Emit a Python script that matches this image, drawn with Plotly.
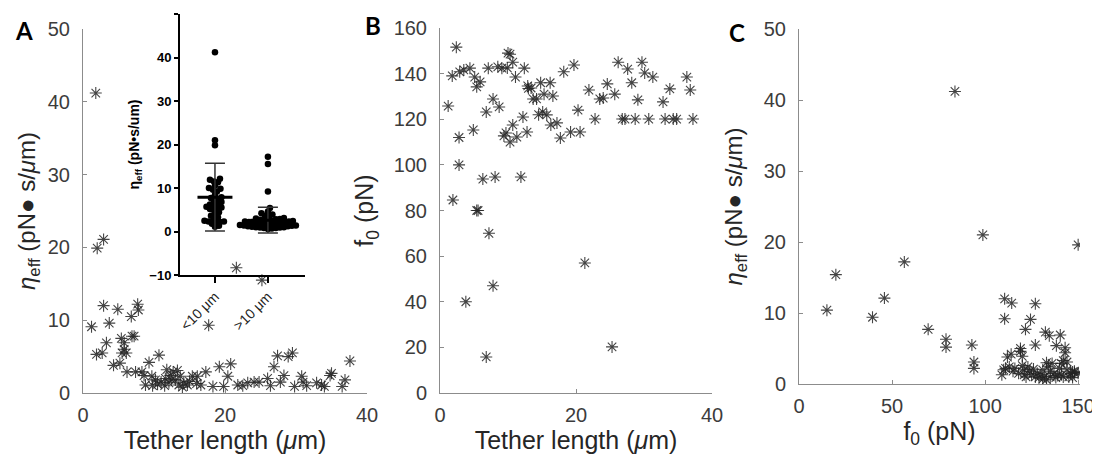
import plotly.graph_objects as go

# ---------------- data ----------------
# Panel A: effective viscosity vs tether length
a_length = [1.8, 2.0, 2.9, 1.2, 1.9, 2.7, 2.9, 3.3, 3.7, 4.9, 4.3, 5.2, 5.4, 5.5, 5.8, 6.1, 5.8,
            6.2, 6.8, 6.9, 7.2, 7.7, 7.8, 7.4, 8.3, 8.6, 8.8, 9.3, 9.7, 10.2, 10.7, 11.0, 11.6,
            11.8, 12.1, 12.7, 13.0, 13.5, 13.7, 14.2, 15.4, 16.1, 16.6, 17.3, 18.3, 19.2, 19.8,
            20.4, 20.8, 21.8, 22.5, 23.2, 24.1, 24.8, 26.0, 26.4, 26.9, 27.4, 27.8, 28.3, 28.9,
            29.5, 29.8, 30.8, 31.0, 31.5, 32.9, 33.6, 34.0, 34.8, 35.0, 36.5, 36.9, 37.6, 17.7,
            21.6, 25.2, 10.5, 11.5, 12.5, 14.7, 15.0, 13.3, 9.8, 14.0, 16.0, 12.3]
a_eta = [41.2, 19.9, 21.1, 9.1, 5.3, 5.5, 12.0, 6.9, 9.6, 11.5, 3.8, 4.1, 7.5, 5.5, 6.9, 5.5, 6.0,
         2.9, 10.5, 7.8, 7.8, 12.2, 11.4, 2.9, 2.9, 2.4, 1.1, 4.2, 2.3, 1.8, 5.2, 1.5, 2.0,
         3.2, 1.4, 2.9, 1.8, 1.1, 2.3, 1.4, 2.3, 2.3, 1.1, 2.9, 0.9, 3.6, 0.9,
         2.3, 4.0, 1.1, 1.0, 1.4, 1.5, 1.5, 2.0, 1.0, 3.6, 5.1, 1.5, 2.4, 5.0,
         5.5, 0.9, 2.3, 1.5, 1.0, 1.4, 1.1, 0.9, 2.4, 2.7, 0.9, 1.8, 4.4, 9.3,
         17.2, 15.5, 1.2, 1.0, 1.8, 1.1, 1.6, 3.1, 1.0, 0.8, 1.3, 2.4]

# Panel B: f0 vs tether length
b_length = [1.2, 1.8, 2.4, 1.9, 2.8, 2.8, 2.9, 3.5, 4.4, 4.9, 5.1, 5.4, 5.4, 5.9, 6.3, 6.8, 7.1,
            7.8, 8.1, 8.5, 8.7, 9.1, 9.4, 9.7, 10.0, 10.3, 10.7, 10.7, 11.1, 11.3, 11.9, 12.2,
            12.4, 12.8, 12.9, 13.4, 13.7, 14.2, 14.8, 15.1, 15.7, 16.2, 16.3, 16.6, 17.2, 17.7,
            18.2, 19.2, 19.7, 20.3, 20.6, 21.9, 22.8, 23.5, 24.0, 24.6, 25.7, 26.2, 26.8, 27.2,
            27.6, 28.2, 28.7, 29.1, 29.7, 30.1, 30.7, 31.3, 32.8, 33.1, 33.8, 34.3, 34.8, 36.3,
            36.8, 37.2, 7.2, 7.8, 3.8, 6.8, 21.3, 25.3, 5.6, 10.3, 13.0, 14.5, 9.9, 15.3]
b_f0 = [125.8, 139.0, 151.6, 84.6, 112.0, 100.0, 140.8, 141.6, 142.4, 115.3, 138.5, 134.2, 80.0,
        136.4, 93.8, 123.2, 142.4, 128.9, 94.7, 143.0, 125.4, 142.4, 112.7, 114.0, 149.0, 110.0,
        117.5, 145.0, 138.5, 112.2, 94.7, 121.0, 142.4, 114.4, 134.6, 133.7, 128.9, 128.9, 136.0,
        123.2, 121.9, 136.0, 117.5, 130.2, 118.4, 111.8, 140.8, 114.4, 143.8, 124.0, 114.4,
        132.8, 120.1, 128.9, 129.3, 135.5, 131.0, 145.0, 120.1, 120.1, 142.0, 136.0, 120.1,
        128.5, 145.0, 140.3, 120.1, 138.5, 127.6, 120.1, 133.3, 120.1, 120.1, 138.5, 132.8,
        120.1, 70.0, 47.0, 40.0, 15.8, 57.0, 20.2, 80.0, 148.5, 133.5, 122.0, 142.5, 131.0]

# Panel C: effective viscosity vs f0
c_f0 = [15.0, 19.8, 39.5, 45.9, 56.6, 69.4, 79.0, 79.0, 92.9, 94.0, 94.0, 98.8, 83.8, 110.5,
        114.3, 110.5, 127.0, 124.4, 121.7, 127.0, 132.4, 134.5, 140.4, 138.3, 143.0, 150.0,
        109, 110, 111, 112, 113, 114, 115, 116, 118, 119, 119, 120, 120, 121, 121, 122, 123,
        124, 125, 126, 127, 128, 129, 130, 131, 131, 132, 133, 133, 134, 135, 135, 136, 137,
        138, 139, 140, 141, 142, 142, 143, 144, 144, 145, 146, 147, 148, 148, 150, 141, 147]
c_eta = [10.4, 15.4, 9.4, 12.1, 17.2, 7.7, 6.3, 5.2, 5.5, 3.1, 2.2, 21.0, 41.2, 12.0,
         11.4, 9.2, 11.3, 9.1, 7.7, 5.5, 7.3, 6.8, 6.9, 5.4, 5.1, 19.6,
         1.3, 2.0, 2.2, 3.8, 2.4, 4.2, 1.8, 2.2, 1.5, 5.0, 4.6, 3.9, 2.6, 1.3, 2.0, 1.0, 2.4,
         1.8, 1.3, 2.1, 1.0, 1.5, 0.9, 1.3, 2.0, 0.7, 1.1, 0.6, 3.0, 2.5, 1.8, 1.0, 2.9, 1.5,
         0.9, 1.2, 2.2, 1.3, 3.3, 1.0, 4.4, 3.1, 2.0, 1.0, 1.5, 0.9, 1.8, 1.6, 1.5, 2.9, 1.7]

# Inset: grouped effective viscosity
inset_categories = ["<10 μm", ">10 μm"]
inset_lt10 = [41.2, 21.0, 19.8, 12.1, 11.9, 11.5, 11.3, 10.6, 10.0, 9.8, 9.6, 9.2, 8.4, 7.9,
              7.7, 7.5, 7.0, 6.8, 6.5, 6.2, 5.9, 5.7, 5.5, 5.4, 5.2, 4.9, 4.4, 4.0, 3.6, 3.3,
              2.9, 2.5, 2.3, 2.3, 2.2, 2.1, 1.8, 1.3, 1.1]
inset_gt10 = [17.2, 15.5, 9.2, 5.4, 4.6, 4.2, 3.9, 3.6, 3.3, 3.1, 3.0, 2.9, 2.8, 2.7, 2.6, 2.5,
              2.4, 2.4, 2.3, 2.3, 2.2, 2.1, 2.0, 2.0, 1.9, 1.9, 1.8, 1.7, 1.6, 1.5, 1.5, 1.4,
              1.4, 1.3, 1.2, 1.2, 1.1, 1.0, 1.0, 0.9, 0.9, 0.8, 0.8, 0.7, 0.6]
inset_mean = [7.9, 2.6]
inset_sd = [7.8, 2.95]


def swarm_offsets(values, center, px_x=53.0, px_y=4.35, d=4.0):
    """Deterministic beeswarm layout (x positions) for a dot plot."""
    placed = []
    xs = [center] * len(values)
    order = sorted(range(len(values)), key=lambda i: values[i])
    for i in order:
        yv = values[i] * px_y
        found = 0.0
        done = False
        for k in range(0, 200):
            for s in ([0] if k == 0 else [1, -1]):
                off = s * k * 0.5
                if all((off - po) ** 2 + (yv - pv) ** 2 >= d * d for po, pv in placed):
                    found = off
                    done = True
                    break
            if done:
                break
        placed.append((found, yv))
        xs[i] = center + found / px_x
    return xs


FONT = "Liberation Sans, Arial, sans-serif"
STAR_COLOR = "rgba(35,35,35,0.85)"
star = dict(symbol="asterisk-open", size=10, color=STAR_COLOR,
            line=dict(width=1.1, color=STAR_COLOR))

fig = go.Figure()
fig.add_trace(go.Scatter(x=a_length, y=a_eta, mode="markers", marker=star,
                         xaxis="x", yaxis="y", showlegend=False))
fig.add_trace(go.Scatter(x=b_length, y=b_f0, mode="markers", marker=star,
                         xaxis="x2", yaxis="y2", showlegend=False))
fig.add_trace(go.Scatter(x=c_f0, y=c_eta, mode="markers", marker=star,
                         xaxis="x3", yaxis="y3", showlegend=False))

# inset dot plot
for idx, vals in enumerate([inset_lt10, inset_gt10]):
    fig.add_trace(go.Scatter(x=swarm_offsets(vals, idx), y=vals, mode="markers",
                             marker=dict(symbol="circle", size=6.5, color="black"),
                             xaxis="x4", yaxis="y4", showlegend=False))
    fig.add_trace(go.Scatter(x=[idx], y=[inset_mean[idx]], mode="markers",
                             marker=dict(size=0.1, color="rgba(0,0,0,0)"),
                             error_y=dict(type="data", array=[inset_sd[idx]], visible=True,
                                          color="#333333", thickness=1.5, width=10),
                             xaxis="x4", yaxis="y4", showlegend=False))
    fig.add_trace(go.Scatter(x=[idx - 0.33, idx + 0.33], y=[inset_mean[idx]] * 2, mode="lines",
                             line=dict(color="black", width=3),
                             xaxis="x4", yaxis="y4", showlegend=False))

TITLE_FONT = dict(family=FONT, size=25, color="#262626")
ETA_FONT = dict(family=FONT, size=24, color="#262626")

# The page body has an 8px margin, so the figure is drawn at (8, 8) in the window.
OFF = 8
W, H = 1092, 448


def main_axis(title_text, standoff, tls, font=TITLE_FONT, **kw):
    d = dict(showline=True, linecolor="#8c8c8c", linewidth=1, ticks="inside", ticklen=4,
             tickcolor="#8c8c8c", showgrid=False, zeroline=False, automargin=False,
             ticklabelstandoff=tls,
             tickfont=dict(family=FONT, size=20, color="#3c3c3c"),
             title=dict(text=title_text, standoff=standoff, font=font))
    d.update(kw)
    return d


def px2paper_x(p):
    return (p - OFF) / W


def px2paper_y(p):
    return 1 - (p - OFF) / H


eta_title = "<i>η</i><sub>eff</sub> (pN● s/<i>μ</i>m)"
len_title = "Tether length (<i>μ</i>m)"

fig.update_layout(
    width=W, height=H, margin=dict(l=0, r=0, t=0, b=0, autoexpand=False),
    paper_bgcolor="white", plot_bgcolor="rgba(0,0,0,0)",
    xaxis=main_axis(len_title, 4, 4, domain=[px2paper_x(83), px2paper_x(367)], range=[0, 40],
                    tickvals=[0, 20, 40], anchor="y"),
    yaxis=main_axis(eta_title, 5, 8, font=ETA_FONT,
                    domain=[px2paper_y(393), px2paper_y(29)], range=[0, 50],
                    tickvals=[0, 10, 20, 30, 40, 50], anchor="x"),
    xaxis2=main_axis(len_title, 4, 4, domain=[px2paper_x(440), px2paper_x(712)], range=[0, 40],
                     tickvals=[0, 20, 40], anchor="y2"),
    yaxis2=main_axis("f<sub>0</sub> (pN)", 12, 8, domain=[px2paper_y(393), px2paper_y(28)],
                     range=[0, 160], tickvals=[0, 20, 40, 60, 80, 100, 120, 140, 160],
                     anchor="x2"),
    xaxis3=main_axis("f<sub>0</sub> (pN)", 4, 4, domain=[px2paper_x(799), px2paper_x(1080)],
                     range=[0, 151], tickvals=[0, 50, 100, 150], anchor="y3"),
    yaxis3=main_axis(eta_title, 14, 8, font=ETA_FONT,
                     domain=[px2paper_y(384), px2paper_y(29)], range=[0, 50],
                     tickvals=[0, 10, 20, 30, 40, 50], anchor="x3"),
    xaxis4=dict(domain=[px2paper_x(180), px2paper_x(305)], range=[-0.66, 1.70], anchor="y4",
                tickvals=[0, 1], ticktext=inset_categories, tickangle=-45, automargin=False,
                showline=True, linecolor="black", linewidth=2, ticks="outside", ticklen=6,
                tickwidth=2, tickcolor="black", showgrid=False, zeroline=False,
                tickfont=dict(family=FONT, size=14, color="#222222")),
    yaxis4=dict(domain=[px2paper_y(275), px2paper_y(14)], range=[-10, 50], anchor="x4",
                tickvals=[-10, 0, 10, 20, 30, 40, 50], automargin=False,
                showline=True, linecolor="black", linewidth=2, ticks="outside", ticklen=4,
                tickwidth=2, tickcolor="black", showgrid=False, zeroline=False,
                tickfont=dict(family=FONT, size=13, color="black", weight="bold"),
                title=dict(text="η<sub>eff</sub> (pN•s/um)", standoff=6,
                           font=dict(family=FONT, size=14, color="black", weight="bold"))),
)

for letter, xp, yp in [("A", 24, 31), ("B", 373, 26), ("C", 737, 32)]:
    fig.add_annotation(text=letter, x=px2paper_x(xp), y=px2paper_y(yp), xref="paper",
                       yref="paper", showarrow=False, xanchor="center", yanchor="middle",
                       font=dict(family="Lato, Open Sans, sans-serif", size=24, color="black",
                                 weight="bold"))

fig.write_html("out.html")
